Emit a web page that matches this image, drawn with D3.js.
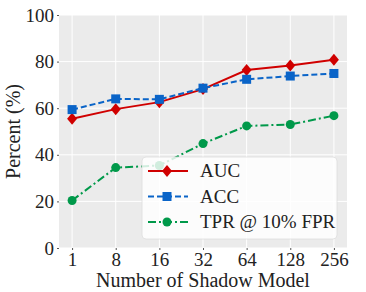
<!DOCTYPE html>
<html>
<head>
<meta charset="utf-8">
<script src="https://cdn.jsdelivr.net/npm/d3@7"></script>
<style>
  body { margin: 0; background: #fff; }
  svg text { font-family: 'Liberation Serif' !important; }
</style>
</head>
<body>
<div id="chart"></div>
<script>
var categories = ["1", "8", "16", "32", "64", "128", "256"];
var aucValues = [55.5, 59.6, 62.6, 68.2, 76.4, 78.3, 80.8];
var accValues = [59.4, 64.0, 63.8, 68.6, 72.4, 73.8, 74.9];
var tprValues = [20.4, 34.5, 35.4, 44.8, 52.4, 53.0, 56.8];
var yTicks = [0, 20, 40, 60, 80, 100];

var series = [
  { name: "AUC", values: aucValues, color: "#d00000", dash: null, marker: "diamond" },
  { name: "ACC", values: accValues, color: "#0a64c8", dash: "6,3", marker: "square" },
  { name: "TPR @ 10% FPR", values: tprValues, color: "#00994a", dash: "8,3,2,3", marker: "circle" }
];

var width = 366, height = 292;
var margin = { top: 15, right: 19, bottom: 44, left: 59 };

var svg = d3.select("#chart").append("svg")
  .attr("width", width)
  .attr("height", height)
  .style("font-family", "'Liberation Serif'");

var xScale = d3.scalePoint()
  .domain(categories)
  .range([margin.left, width - margin.right])
  .padding(0.3);

var yScale = d3.scaleLinear()
  .domain([0, 100])
  .range([height - margin.bottom, margin.top]);

// panel background
svg.append("rect")
  .attr("x", margin.left)
  .attr("y", margin.top)
  .attr("width", width - margin.left - margin.right)
  .attr("height", height - margin.top - margin.bottom)
  .attr("fill", "#ebebeb");

// grid
svg.selectAll(".ygrid")
  .data(yTicks)
  .enter().append("line")
  .attr("x1", margin.left).attr("x2", width - margin.right)
  .attr("y1", d => yScale(d)).attr("y2", d => yScale(d))
  .attr("stroke", "#fff").attr("stroke-width", 1);

svg.selectAll(".xgrid")
  .data(categories)
  .enter().append("line")
  .attr("x1", d => xScale(d)).attr("x2", d => xScale(d))
  .attr("y1", margin.top).attr("y2", height - margin.bottom)
  .attr("stroke", "#fff").attr("stroke-width", 1);

// axes
var yAxis = svg.append("g")
  .attr("transform", "translate(" + margin.left + ",0)")
  .call(d3.axisLeft(yScale).tickValues(yTicks).tickSize(2).tickPadding(3));
yAxis.attr("font-family", null).attr("font-size", null);
yAxis.select(".domain").remove();
yAxis.selectAll("line").attr("stroke", "#555");
yAxis.selectAll("text").attr("fill", "#222").style("font-size", "19px");

var xAxis = svg.append("g")
  .attr("transform", "translate(0," + (height - margin.bottom) + ")")
  .call(d3.axisBottom(xScale).tickSize(2).tickPadding(3));
xAxis.attr("font-family", null).attr("font-size", null);
xAxis.select(".domain").remove();
xAxis.selectAll("line").attr("stroke", "#555");
xAxis.selectAll("text").attr("fill", "#222").style("font-size", "19px");

// axis titles
svg.append("text")
  .attr("x", (margin.left + width - margin.right) / 2)
  .attr("y", 287)
  .attr("text-anchor", "middle")
  .style("font-size", "20px")
  .attr("fill", "#222")
  .text("Number of Shadow Model");

svg.append("text")
  .attr("transform", "translate(20," + ((margin.top + height - margin.bottom) / 2) + ") rotate(-90)")
  .attr("text-anchor", "middle")
  .style("font-size", "20px")
  .attr("fill", "#222")
  .text("Percent (%)");

function drawMarker(g, type, color) {
  if (type === "diamond") {
    g.append("path").attr("d", "M0,-6L5,0L0,6L-5,0Z").attr("fill", color);
  } else if (type === "square") {
    g.append("rect").attr("x", -4.5).attr("y", -4.5).attr("width", 9).attr("height", 9).attr("fill", color);
  } else {
    g.append("circle").attr("r", 4.5).attr("fill", color);
  }
}

var line = d3.line()
  .x((d, i) => xScale(categories[i]))
  .y(d => yScale(d));

series.forEach(function (s) {
  svg.append("path")
    .datum(s.values)
    .attr("d", line)
    .attr("fill", "none")
    .attr("stroke", s.color)
    .attr("stroke-width", 2)
    .attr("stroke-dasharray", s.dash);
  s.values.forEach(function (v, i) {
    var g = svg.append("g")
      .attr("transform", "translate(" + xScale(categories[i]) + "," + yScale(v) + ")");
    drawMarker(g, s.marker, s.color);
  });
});

// legend
var legend = svg.append("g").attr("transform", "translate(142,157)");
legend.append("rect")
  .attr("width", 195).attr("height", 82)
  .attr("rx", 4)
  .attr("fill", "#fff").attr("fill-opacity", 0.82)
  .attr("stroke", "#ddd").attr("stroke-width", 0.8);

series.forEach(function (s, i) {
  var y = 14 + i * 25.5;
  legend.append("line")
    .attr("x1", 6).attr("x2", 46)
    .attr("y1", y).attr("y2", y)
    .attr("stroke", s.color).attr("stroke-width", 2)
    .attr("stroke-dasharray", s.dash);
  var g = legend.append("g").attr("transform", "translate(25," + y + ")");
  drawMarker(g, s.marker, s.color);
  legend.append("text")
    .attr("x", 58).attr("y", y + 6)
    .style("font-size", "19px")
    .attr("fill", "#222")
    .text(s.name);
});
</script>
</body>
</html>
